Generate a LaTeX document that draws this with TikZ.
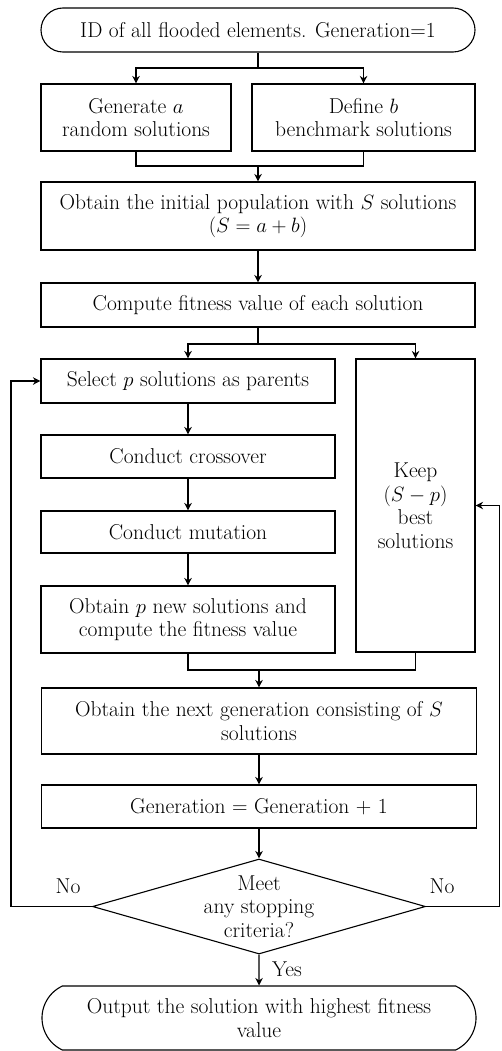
\documentclass[tikz,border=0pt]{standalone}
\usetikzlibrary{arrows.meta,positioning,shapes.geometric,shapes.misc}

\begin{document}
\begin{tikzpicture}[
    x=1pt,y=-1pt,
    >={Stealth[length=7.5pt,width=7.5pt]},
    font=\fontsize{21.5}{23.5}\selectfont,
    line width=1.1pt,
    % --- process boxes ----------------------------------------------
    proc/.style={rectangle,draw,inner sep=0pt,align=center},
    % --- start / end terminals --------------------------------------
    term/.style={rounded rectangle,draw,inner sep=0pt,align=center},
    % --- decision ---------------------------------------------------
    decide/.style={diamond,draw,aspect=3.5,inner sep=0pt,align=center},
    % --- branch labels ----------------------------------------------
    lbl/.style={inner sep=1pt},
  ]

\useasboundingbox (0,0) rectangle (501,1051);

% =====================================================================
%  Initial population
% =====================================================================
\node[term,rounded rectangle arc length=180,minimum width=434pt,minimum height=44pt]
     (start) at (258,30) {ID of all flooded elements. Generation=1};

\node[proc,minimum width=190pt,minimum height=67pt] (genA) at (136,117.5)
     {Generate $a$\\random solutions};
\node[proc,minimum width=223pt,minimum height=67pt] (defB) at (363.5,117.5)
     {Define $b$\\benchmark solutions};

\node[proc,minimum width=434pt,minimum height=68pt] (init) at (258,216)
     {Obtain the initial population with $S$ solutions\\$(S=a+b)$};

\node[proc,minimum width=434pt,minimum height=44pt] (fit) at (258,305)
     {Compute fitness value of each solution};

% =====================================================================
%  Genetic operators and elite branch
% =====================================================================
\node[proc,minimum width=294pt,minimum height=44pt] (select) at (188,381)
     {Select $p$ solutions as parents};
\node[proc,minimum width=294pt,minimum height=43pt] (cross) at (188,456.5)
     {Conduct crossover};
\node[proc,minimum width=294pt,minimum height=42pt] (mut) at (188,532)
     {Conduct mutation};
\node[proc,minimum width=294pt,minimum height=67pt] (newsol) at (188,619.5)
     {Obtain $p$ new solutions and\\compute the fitness value};

\node[proc,minimum width=119pt,minimum height=293pt] (keep) at (415.5,505.5)
     {Keep\\$(S-p)$\\best\\solutions};

% =====================================================================
%  Next generation and stopping test
% =====================================================================
\node[proc,minimum width=435pt,minimum height=66pt] (nextgen) at (259,721)
     {Obtain the next generation consisting of $S$\\solutions};
\node[proc,minimum width=435pt,minimum height=43pt] (incr) at (259,806.5)
     {Generation = Generation + 1};

\node[decide,minimum width=333pt,minimum height=95pt] (stop) at (259,906.5)
     {Meet\\any stopping\\criteria?};

\node[term,rounded rectangle arc length=130,minimum width=434pt,minimum height=64pt]
     (finish) at (259,1018) {Output the solution with highest fitness\\value};

\node[lbl] (nol) at (68,886) {No};
\node[lbl] (nor) at (442,886) {No};
\node[lbl] (yes) at (287,969) {Yes};

% ---- split / merge points -------------------------------------------
\coordinate (sp1) at (258,68);
\coordinate (mg1) at (258,166);
\coordinate (sp2) at (258,344);
\coordinate (mg2) at (259,670);
\coordinate (lp)  at (11,906.5);
\coordinate (rp)  at (499.5,906.5);

% =====================================================================
%  Connectors
% =====================================================================
\draw (start) -- (sp1);
\draw[->] (sp1) -| (genA);
\draw[->] (sp1) -| (defB);
\draw (genA) |- (mg1) -| (defB);
\draw[->] (mg1) -- (init);
\draw[->] (init) -- (fit);

\draw (fit) -- (sp2);
\draw[->] (sp2) -| (select);
\draw[->] (sp2) -| (keep);

\draw[->] (select) -- (cross);
\draw[->] (cross) -- (mut);
\draw[->] (mut) -- (newsol);

\draw (newsol) |- (mg2) -| (keep);
\draw[->] (mg2) -- (nextgen);
\draw[->] (nextgen) -- (incr);
\draw[->] (incr) -- (stop);
\draw[->] (stop) -- (finish);

% ---- loops back when no stopping criterion is met --------------------
\draw[->] (stop.west) -- (lp) |- (select);
\draw[->] (stop.east) -- (rp) |- (keep);

\end{tikzpicture}
\end{document}
